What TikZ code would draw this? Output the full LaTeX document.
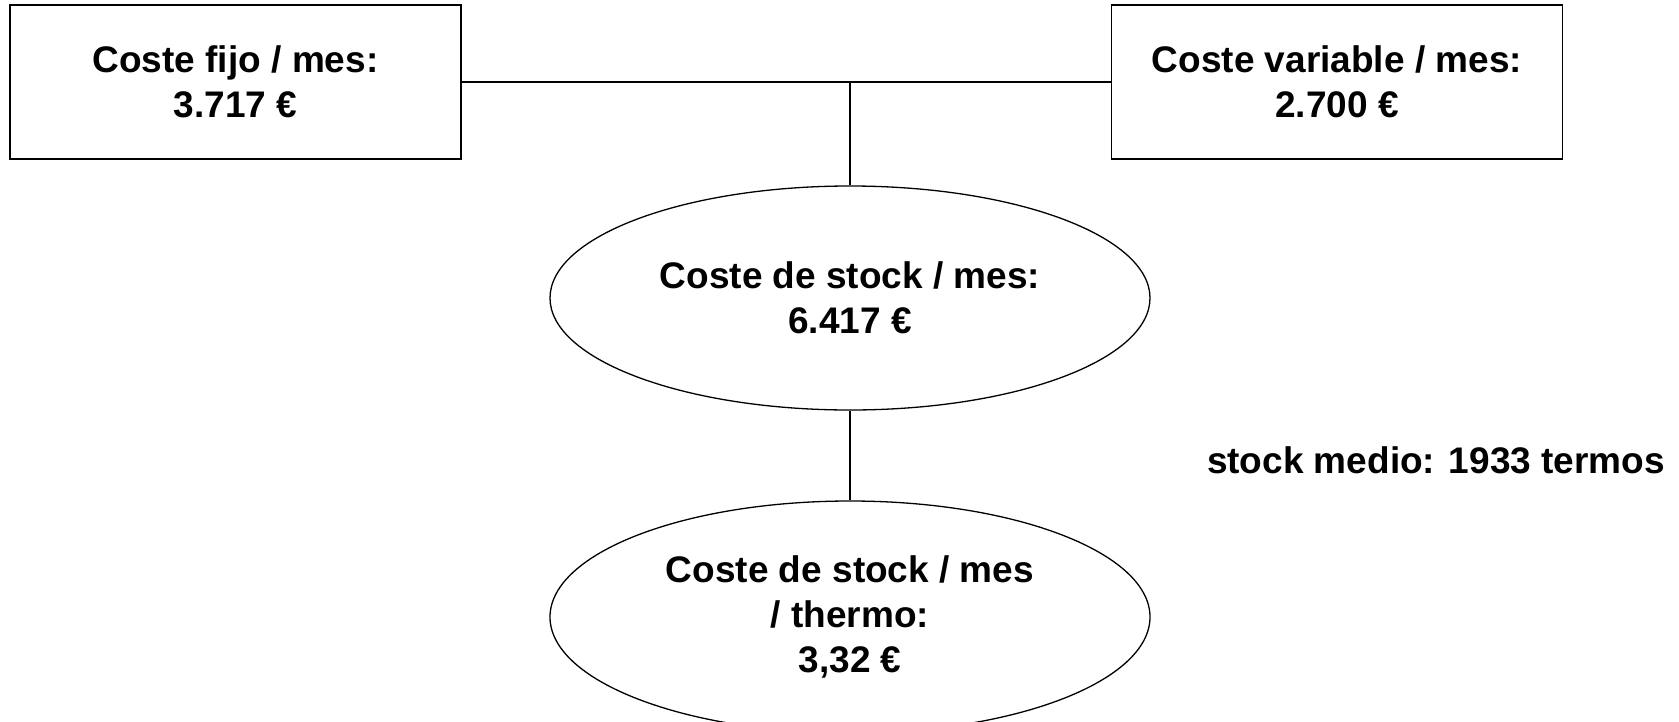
\documentclass[tikz,border=0pt]{standalone}
\usepackage{fontspec}
\setmainfont{Liberation Sans}
\usetikzlibrary{shapes.geometric}
\begin{document}
\begin{tikzpicture}[x=1pt,y=-1pt,
  every node/.style={font=\fontsize{37}{45}\selectfont\bfseries, align=center, inner sep=0pt},
  costbox/.style={draw, line width=1.4pt, minimum width=451pt, minimum height=154pt},
  costoval/.style={draw, ellipse, line width=1.3pt, minimum width=600pt, minimum height=224pt},
  link/.style={line width=1.3pt}]
  \useasboundingbox (0,0) rectangle (1679,721);
  \fill[white] (0,0) rectangle (1679,721);

  % monthly fixed and variable cost boxes
  \node[costbox] (fijo) at (235.5,82) {Coste fijo / mes:\\3.717 €};
  \node[costbox] (variable) at (1337,82) {Coste variable / mes:\\2.700 €};

  % total and per-unit stock cost
  \node[costoval] (stock) at (850,298) {Coste de stock / mes:\\6.417 €};
  \node[costoval, minimum height=232pt] (unidad) at (850,617) {Coste de stock / mes\\/ thermo:\\3,32 €};

  \node (medio) at (1436,460) {stock medio: 1933 termos};

  % connectors
  \coordinate (union) at (stock.north |- fijo.east);
  \draw[link] (fijo.east) -- (variable.west);
  \draw[link] (union) -- (stock.north);
  \draw[link] (stock.south) -- (unidad.north);
\end{tikzpicture}
\end{document}
